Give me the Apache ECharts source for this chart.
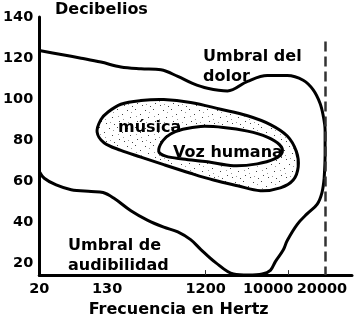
<!DOCTYPE html>
<html>
<head>
<meta charset="utf-8">
<script src="https://cdn.jsdelivr.net/npm/echarts@6/dist/echarts.min.js"></script>
<style>html,body{margin:0;padding:0;background:#fff}#c{width:355px;height:323px}</style>
</head>
<body>
<div id="c"></div>
<script>
// Tick labels
const yTicks = [20, 40, 60, 80, 100, 120, 140];
const xTickPos = [0, 21.7, 53.2, 73.2, 90.4];
const xTickLabels = ['20', '130', '1200', '10000', '20000'];
const xSmallTicks = [53.2, 79.6, 91.6];
// 20000 Hz limit (dashed line)
const limitX = 91.6;
const limitTop = 128;

// Umbral del dolor (pain threshold)
const painX = [0, 7.0, 13.4, 19.7, 26.1, 32.5, 38.9, 44.3, 49.0, 53.8, 60.2, 66.6, 72.9, 79.3, 84.4, 87.6, 89.8, 90.8, 91.4, 91.4, 91.1];
const painY = [123.6, 121.7, 119.9, 118.0, 115.6, 114.7, 114.2, 111.0, 107.6, 105.2, 103.9, 108.6, 111.4, 111.4, 109.1, 104.4, 97.8, 91.8, 84.7, 73.0, 61.3];

// Umbral de audibilidad (hearing threshold)
const hearX = [0, 1.6, 5.4, 10.2, 16.6, 20.4, 23.9, 29.3, 34.7, 39.8, 44.3, 48.4, 51.6, 56.4, 62.1, 66.9, 71.3, 73.9, 75.5, 78.0, 79.3, 82.5, 85.7, 88.9, 90.4, 91.1];
const hearY = [64.6, 61.3, 58.0, 55.7, 54.8, 54.3, 51.5, 45.4, 40.7, 37.4, 35.1, 31.3, 26.6, 20.1, 14.5, 14.0, 14.5, 16.3, 20.6, 26.2, 30.9, 38.8, 44.0, 48.7, 54.3, 61.3];

// Música region
const musicX = [18.5, 19.7, 22.0, 26.1, 32.5, 39.8, 48.4, 58.0, 66.6, 73.9, 79.3, 82.2, 82.8, 81.2, 77.1, 70.7, 63.4, 55.7, 48.4, 39.8, 32.5, 26.1, 20.7];
const musicY = [83.8, 89.9, 93.6, 97.4, 99.2, 99.7, 98.3, 95.0, 91.8, 87.5, 81.9, 74.4, 66.9, 60.4, 56.6, 55.2, 57.6, 60.4, 63.7, 67.9, 71.6, 74.9, 78.6];

// Voz humana region
const voiceX = [38.2, 39.5, 42.0, 45.9, 51.6, 58.9, 66.6, 72.9, 76.8, 77.7, 75.2, 69.7, 62.1, 53.8, 45.9, 40.4];
const voiceY = [74.4, 79.6, 82.9, 85.2, 86.6, 86.1, 84.3, 81.4, 77.7, 74.0, 70.7, 68.3, 67.4, 69.3, 70.7, 72.1];

const zip = (xs, ys) => xs.map((x, i) => [x, ys[i]]);

// stipple pattern (sparse dots)
const pc = document.createElement('canvas');
pc.width = 18; pc.height = 18;
const g = pc.getContext('2d');
g.fillStyle = '#fff'; g.fillRect(0, 0, 18, 18);
g.fillStyle = '#444';
[[1,2],[9,1],[14,6],[4,9],[11,13],[16,15],[6,16]].forEach(p => g.fillRect(p[0], p[1], 1, 1));
g.fillStyle = '#999';
[[5,4],[15,11],[2,14],[10,8]].forEach(p => g.fillRect(p[0], p[1], 1, 1));

const FONT = '"DejaVu Sans", sans-serif';

function polyItem(points, fill) {
  return function (params, api) {
    if (params.dataIndex !== 0) return null;
    const pts = points.map(p => api.coord(p));
    return {
      type: 'polygon',
      shape: { points: pts, smooth: 0.35 },
      style: { fill: fill, stroke: '#000', lineWidth: 3 }
    };
  };
}

const chart = echarts.init(document.getElementById('c'), null, { renderer: 'canvas' });
const txt = (t, x, y) => ({
  type: 'text', x: x, y: y, z: 100,
  style: { text: t, fill: '#000', font: 'bold 16px ' + FONT, verticalAlign: 'middle', align: 'left' }
});

chart.setOption({
  animation: false,
  backgroundColor: '#fff',
  grid: { left: 38, right: 3, top: 17, bottom: 37 },
  xAxis: {
    type: 'value', min: 0, max: 100,
    name: 'Frecuencia en Hertz', nameLocation: 'middle', nameGap: 25,
    nameTextStyle: { color: '#000', fontFamily: FONT, fontWeight: 'bold', fontSize: 16, padding: [0, 34, 0, 0] },
    axisLine: { lineStyle: { color: '#000', width: 3 } },
    axisTick: { show: true, inside: true, length: 5, customValues: xSmallTicks, lineStyle: { color: '#333', width: 1 } },
    splitLine: { show: false },
    axisLabel: {
      customValues: xTickPos, margin: 7, color: '#000', fontFamily: FONT, fontWeight: 'bold', fontSize: 14.5,
      formatter: v => { const i = xTickPos.indexOf(v); return i >= 0 ? xTickLabels[i] : ''; }
    }
  },
  yAxis: {
    type: 'value', min: 14, max: 140,
    axisLine: { show: true, lineStyle: { color: '#000', width: 3 } },
    axisTick: { show: false },
    splitLine: { show: false },
    axisLabel: { customValues: yTicks, margin: 6, color: '#000', fontFamily: FONT, fontWeight: 'bold', fontSize: 14.5 }
  },
  graphic: [
    txt('Decibelios', 55, 10),
    txt('Umbral del', 203, 57),
    txt('dolor', 203, 77),
    txt('música', 118, 128),
    txt('Voz humana', 173, 152.5),
    txt('Umbral de', 68, 246),
    txt('audibilidad', 68, 266)
  ],
  series: [
    { type: 'custom', name: 'música', coordinateSystem: 'cartesian2d', z: 1, silent: true,
      data: zip(musicX, musicY), renderItem: polyItem(zip(musicX, musicY), { image: pc, repeat: 'repeat' }) },
    { type: 'custom', name: 'Voz humana', coordinateSystem: 'cartesian2d', z: 2, silent: true,
      data: zip(voiceX, voiceY), renderItem: polyItem(zip(voiceX, voiceY), '#fff') },
    { type: 'line', name: 'Umbral del dolor', z: 3, data: zip(painX, painY), smooth: 0.35, showSymbol: false,
      lineStyle: { color: '#000', width: 3 },
      markLine: { silent: true, symbol: 'none', label: { show: false },
        lineStyle: { color: '#333', width: 2.5, type: [10, 5] },
        data: [[{ coord: [limitX, limitTop] }, { coord: [limitX, 14] }]] } },
    { type: 'line', name: 'Umbral de audibilidad', z: 3, data: zip(hearX, hearY), smooth: 0.35, showSymbol: false,
      lineStyle: { color: '#000', width: 3 } }
  ]
});
</script>
</body>
</html>
